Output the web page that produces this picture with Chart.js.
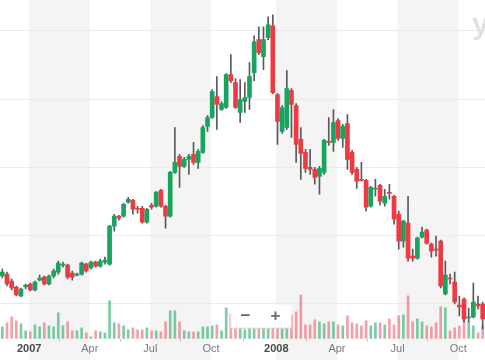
<!DOCTYPE html>
<html><head><meta charset="utf-8">
<script src="https://cdn.jsdelivr.net/npm/chart.js@4.4.1/dist/chart.umd.min.js"></script>
<style>html,body{margin:0;padding:0;background:#fff;}canvas{display:block;}</style>
</head><body>
<canvas id="c" width="485" height="360"></canvas>
<script>
// Weekly bars (week starting Monday)
const weeks = [
'2006-11-27','2006-12-04','2006-12-11','2006-12-18','2006-12-25',
'2007-01-01','2007-01-08','2007-01-15','2007-01-22','2007-01-29','2007-02-05','2007-02-12','2007-02-19','2007-02-26',
'2007-03-05','2007-03-12','2007-03-19','2007-03-26','2007-04-02','2007-04-09','2007-04-16','2007-04-23','2007-04-30',
'2007-05-07','2007-05-14','2007-05-21','2007-05-28','2007-06-04','2007-06-11','2007-06-18','2007-06-25','2007-07-02',
'2007-07-09','2007-07-16','2007-07-23','2007-07-30','2007-08-06','2007-08-13','2007-08-20','2007-08-27','2007-09-03',
'2007-09-10','2007-09-17','2007-09-24','2007-10-01','2007-10-08','2007-10-15','2007-10-22','2007-10-29','2007-11-05',
'2007-11-12','2007-11-19','2007-11-26','2007-12-03','2007-12-10','2007-12-17','2007-12-24','2007-12-31',
'2008-01-07','2008-01-14','2008-01-21','2008-01-28','2008-02-04','2008-02-11','2008-02-18','2008-02-25','2008-03-03',
'2008-03-10','2008-03-17','2008-03-24','2008-03-31','2008-04-07','2008-04-14','2008-04-21','2008-04-28','2008-05-05',
'2008-05-12','2008-05-19','2008-05-26','2008-06-02','2008-06-09','2008-06-16','2008-06-23','2008-06-30','2008-07-07',
'2008-07-14','2008-07-21','2008-07-28','2008-08-04','2008-08-11','2008-08-18','2008-08-25','2008-09-01','2008-09-08',
'2008-09-15','2008-09-22','2008-09-29','2008-10-06','2008-10-13','2008-10-20','2008-10-27','2008-11-03','2008-11-10',
'2008-11-17'];

const open = [
14.09,14.38,13.36,12.48,11.17,12.48,12.92,12.04,13.50,13.94,
12.92,14.09,14.67,15.69,15.69,14.53,14.23,14.38,15.84,15.26,
16.13,15.55,16.13,15.84,21.39,22.85,22.85,24.89,25.18,24.01,
24.01,21.97,24.45,24.31,26.64,24.31,22.85,29.27,31.61,30.15,
31.17,31.90,30.73,32.19,35.99,37.30,40.37,38.47,38.76,43.58,
42.41,38.03,39.64,40.22,43.87,48.69,46.21,48.98,50.73,40.66,
35.26,35.84,41.24,39.05,34.09,32.19,30.00,29.71,28.69,29.27,
33.80,33.65,36.86,34.23,36.42,32.19,29.71,28.25,28.10,24.31,
26.79,27.37,24.74,26.35,25.77,23.14,19.20,21.83,17.01,16.72,
19.78,20.80,18.76,18.03,19.20,11.46,13.80,13.21,9.85,10.73,
7.95,8.10,10.00,10.00];

const high = [
15.11,14.67,13.65,12.63,12.34,12.92,13.07,13.36,14.23,14.09,
14.23,15.11,16.28,16.13,15.84,14.82,14.53,16.13,15.99,16.28,
16.28,16.57,16.86,21.53,23.14,22.99,24.74,25.62,25.33,24.31,
24.31,24.01,24.74,26.50,26.79,24.45,29.42,35.84,31.90,31.46,
31.90,33.65,32.63,36.13,37.59,41.39,43.28,39.64,43.72,46.50,
42.99,42.85,42.41,45.33,49.27,50.58,50.58,52.04,52.34,40.80,
39.05,44.16,41.53,39.34,35.84,32.63,32.63,30.00,30.15,34.09,
37.30,38.47,37.15,36.28,37.74,32.48,30.00,30.73,28.25,27.23,
28.25,27.52,26.79,27.52,25.91,23.58,22.26,25.77,18.03,19.78,
21.24,20.95,18.91,19.93,19.34,16.28,14.38,14.67,11.17,10.88,
9.41,13.07,11.17,10.29];

const low = [
13.80,12.63,12.04,11.17,11.02,12.19,11.90,11.90,13.36,12.77,
12.77,13.80,14.38,15.40,13.65,13.50,14.09,14.23,14.67,15.11,
15.40,15.40,15.84,15.69,20.66,22.26,22.70,24.74,23.14,23.29,
21.83,21.83,23.87,24.16,24.16,21.09,22.70,29.12,27.08,30.00,
28.98,30.44,29.85,32.04,35.26,37.15,35.55,38.32,38.61,42.41,
38.61,36.57,38.03,38.47,42.70,46.50,44.31,48.69,40.80,33.36,
34.96,35.55,34.38,30.73,28.25,29.27,28.98,27.52,26.06,28.98,
33.21,32.34,33.94,32.92,29.71,28.98,26.93,27.96,23.58,24.16,
25.77,24.45,24.31,25.33,21.68,18.03,18.32,16.28,16.28,16.57,
19.64,18.76,16.86,17.01,12.34,11.31,12.92,10.00,8.25,7.37,
7.37,7.95,9.27,6.35];

const close = [
14.67,12.92,12.34,11.31,12.19,12.77,12.04,13.21,13.80,12.92,
14.09,14.82,15.99,15.84,13.94,13.94,14.38,15.99,14.82,16.13,
15.55,16.28,16.42,21.39,22.85,22.55,24.60,25.33,23.87,23.87,
21.97,23.87,24.16,26.35,24.31,22.85,29.27,30.73,30.15,31.17,
31.61,30.73,32.34,35.84,37.30,41.10,39.20,39.34,43.58,42.70,
38.76,39.93,40.22,43.28,48.39,46.79,48.69,50.88,40.95,36.72,
38.76,41.53,39.20,33.36,32.04,29.85,29.71,28.54,29.85,33.94,
33.65,36.57,34.23,35.99,31.17,29.27,27.96,28.10,24.16,27.08,
26.93,25.04,25.77,26.20,22.41,19.20,22.12,16.72,16.72,19.64,
20.51,18.91,17.74,17.88,12.63,14.23,13.65,10.29,9.56,7.81,
8.10,10.29,9.71,7.81];

// volume, millions
const volume = [
1.2,1.6,2.2,1.8,1.5,0.8,0.7,1.4,1.2,1.6,
1.3,1.2,2.6,1.3,1.7,0.8,0.8,1.1,0.6,0.2,
0.8,0.7,0.6,3.8,1.6,1.5,1.3,0.9,1.1,0.9,
0.9,1.1,0.8,0.8,0.7,1.7,2.8,2.8,1.7,0.8,
0.7,0.7,0.7,1.2,1.2,1.3,1.4,0.8,3.1,2.5,
1.1,1.1,0.9,1.1,1.1,1.1,1.1,1.1,1.2,1.1,
1.1,1.1,2.4,2.7,4.4,1.4,1.4,1.9,1.7,1.5,
1.7,1.7,1.4,1.3,2.3,1.6,1.5,1.3,1.8,1.3,
1.6,1.6,1.4,2.0,1.4,2.3,2.4,4.3,1.7,2.0,
1.7,1.3,1.2,1.6,3.2,3.1,0.8,1.1,1.3,2.3,
1.7,1.3,0.6,1.3];

const monthNames = ['Jan','Feb','Mar','Apr','May','Jun','Jul','Aug','Sep','Oct','Nov','Dec'];
const priceGrid = [10,20,30,40,50];

const UP = '#17a45e', DOWN = '#ef3a44', WICK = '#5a5a5a';
const UPV = 'rgba(40,175,110,0.62)', DOWNV = 'rgba(238,80,95,0.55)';
const FONT = '"Liberation Sans", Arial, sans-serif';
const TICK_SHIFT = 0.75; // quarter labels sit a little after the first bar of the quarter

const monthOf = d => +d.slice(5,7) - 1;
const isUp = close.map((c,i) => c >= open[i]);
const quarterStarts = [];
weeks.forEach((d,i) => { if (i > 0 && monthOf(d) !== monthOf(weeks[i-1]) && monthOf(d) % 3 === 0) quarterStarts.push(i); });
const tickLabelAt = v => { const i = Math.round(v - TICK_SHIFT); return monthOf(weeks[i]) === 0 ? weeks[i].slice(0,4) : monthNames[monthOf(weeks[i])]; };

const bandsPlugin = {
  id: 'bands',
  beforeDraw(chart) {
    const {ctx, chartArea: a, scales: {x}} = chart;
    ctx.save();
    ctx.fillStyle = '#f4f4f4';
    quarterStarts.forEach((qi,k) => {
      const m = monthOf(weeks[qi]);
      if (m === 0 || m === 6) {
        const x0 = x.getPixelForValue(qi + TICK_SHIFT);
        const x1 = k + 1 < quarterStarts.length ? x.getPixelForValue(quarterStarts[k+1] + TICK_SHIFT) : a.right;
        ctx.fillRect(x0, 0, x1 - x0, chart.height);
      }
    });
    ctx.restore();
  }
};

const overlayPlugin = {
  id: 'overlay',
  afterDraw(chart) {
    const {ctx, chartArea: a} = chart;
    ctx.save();
    const cx = (a.left + a.right) / 2 + 18;
    ctx.fillStyle = 'rgba(255,255,255,0.92)';
    ctx.fillRect(cx - 30, a.bottom - 34, 61, 23);
    ctx.strokeStyle = '#d8d8d8';
    ctx.lineWidth = 1;
    ctx.beginPath(); ctx.moveTo(cx - 30, a.bottom - 10.5); ctx.lineTo(cx + 31, a.bottom - 10.5); ctx.stroke();
    ctx.fillStyle = '#6a6a6a';
    ctx.font = 'bold 17px ' + FONT;
    ctx.textAlign = 'center'; ctx.textBaseline = 'middle';
    ctx.fillText('\u2212', cx - 15, a.bottom - 22);
    ctx.fillText('+', cx + 15, a.bottom - 22);
    ctx.fillStyle = '#e2e2e2';
    ctx.font = 'bold 30px ' + FONT;
    ctx.textAlign = 'left'; ctx.textBaseline = 'alphabetic';
    ctx.fillText('y', a.right - 13, 34);
    ctx.restore();
  }
};

const idx = weeks.map((w,i) => i);

new Chart(document.getElementById('c'), {
  type: 'bar',
  data: {
    datasets: [
      { label: 'body', data: idx.map(i => ({ x: i, y: [open[i], close[i]] })),
        backgroundColor: isUp.map(u => u ? UP : DOWN), barThickness: 4, minBarLength: 1,
        grouped: false, yAxisID: 'y' },
      { label: 'wick', data: idx.map(i => ({ x: i, y: [low[i], high[i]] })),
        backgroundColor: WICK, barThickness: 1, grouped: false, yAxisID: 'y' },
      { label: 'volume', data: idx.map(i => ({ x: i, y: volume[i] })),
        backgroundColor: isUp.map(u => u ? UPV : DOWNV), barThickness: 2, grouped: false, yAxisID: 'yv' }
    ]
  },
  options: {
    responsive: false, animation: false, devicePixelRatio: 1,
    layout: { padding: { left: 0, right: 0, top: 0, bottom: 3 } },
    plugins: { legend: { display: false }, tooltip: { enabled: false } },
    scales: {
      x: {
        type: 'linear', min: -0.5, max: weeks.length - 0.5, offset: false,
        grid: { display: true, drawOnChartArea: false, drawTicks: true, tickLength: 3, color: '#c8c8c8' },
        border: { display: false },
        afterBuildTicks(scale) { scale.ticks = quarterStarts.map(v => ({ value: v + TICK_SHIFT })); },
        ticks: {
          autoSkip: false, maxRotation: 0, padding: 1,
          callback: v => tickLabelAt(v),
          font: c => ({ family: FONT, size: 11, weight: /^\d{4}$/.test(c.tick && c.tick.label) ? 'bold' : 'normal' }),
          color: c => /^\d{4}$/.test(c.tick && c.tick.label) ? '#4a4a4a' : '#7a7a7a'
        }
      },
      y: {
        type: 'linear', min: 4.9, max: 54.5, position: 'right',
        afterBuildTicks(scale) { scale.ticks = priceGrid.map(v => ({ value: v })); },
        ticks: { display: false },
        grid: { color: '#ebebeb', drawTicks: false },
        border: { display: false }
      },
      yv: { type: 'linear', min: 0, max: 34, display: false }
    }
  },
  plugins: [bandsPlugin, overlayPlugin]
});
</script>
</body></html>
